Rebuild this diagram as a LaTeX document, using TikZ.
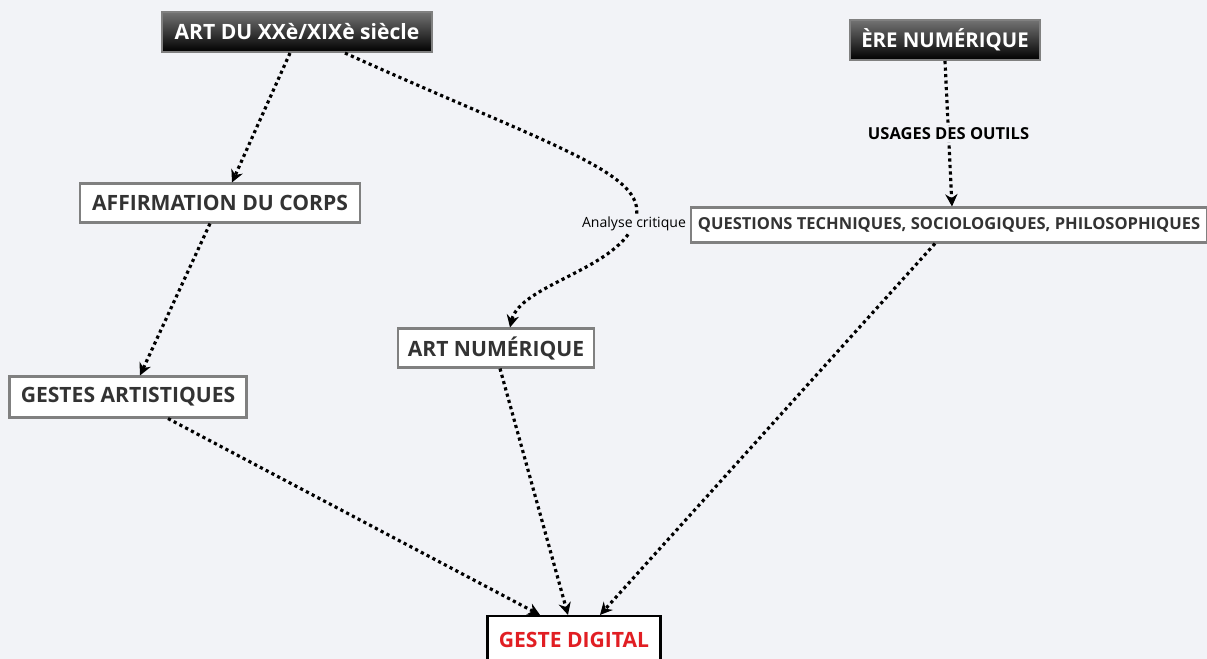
\documentclass[tikz,border=0pt]{standalone}
\usepackage{fontspec}
\setmainfont{Open Sans}
\usetikzlibrary{arrows.meta, positioning, calc}
\definecolor{bgpaper}{RGB}{242,243,247}
\definecolor{boxborder}{RGB}{128,128,128}
\definecolor{boxtext}{RGB}{51,51,51}
\definecolor{goalred}{RGB}{225,30,35}

\begin{document}
\begin{tikzpicture}[x=0.02cm, y=-0.02cm,
    box/.style={draw=boxborder, line width=1.2pt, fill=white, minimum height=0.78cm,
                inner sep=0pt, font=\fontsize{12}{14}\selectfont\bfseries, text=boxtext},
    dark/.style={draw=boxborder, line width=1.2pt, top color=black!55, bottom color=black,
                 minimum height=0.8cm, inner sep=0pt, text=white,
                 font=\fontsize{12}{14}\selectfont\bfseries},
    goal/.style={box, draw=black, text=goalred},
    arr/.style={-{Stealth[length=7pt, width=7pt]}, line width=1.8pt,
                dash pattern=on 1.8pt off 1.9pt},
    lbl/.style={fill=bgpaper, inner sep=1pt, font=\fontsize{8}{9}\selectfont}
  ]
    \useasboundingbox[fill=bgpaper] (0,0) rectangle (1207,659);

    %% Top row
    \node[dark, minimum width=5.4cm] (art) at (297,32) {ART DU XXè/XIXè siècle};
    \node[dark, minimum width=3.8cm, font=\fontsize{11.6}{14}\selectfont\bfseries] (ere) at (945,40) {ÈRE NUMÉRIQUE};

    %% Middle boxes
    \node[box, minimum width=5.6cm] (corps) at (220,203) {AFFIRMATION DU CORPS};
    \node[box, minimum width=10.32cm, minimum height=0.7cm, font=\fontsize{9.4}{11}\selectfont\bfseries] (quest) at (949,225)
      {QUESTIONS TECHNIQUES, SOCIOLOGIQUES, PHILOSOPHIQUES};
    \node[box, minimum width=3.92cm] (artnum) at (496,348) {ART NUMÉRIQUE};
    \node[box, minimum width=4.74cm, minimum height=0.82cm] (gestes) at (128,397) {GESTES ARTISTIQUES};

    %% Goal
    \node[goal, minimum width=3.46cm, minimum height=0.96cm] (digital) at (574,640) {GESTE DIGITAL};

    %% Arrows
    \draw[arr] ([xshift=-0.14cm]art.south) -- ([xshift=0.24cm]corps.north);
    \draw[arr] ([xshift=0.96cm]art.south) .. controls (560,150) and (655,175) ..
      (634,224) node[lbl] {Analyse critique}
      .. controls (615,270) and (520,285) .. ([xshift=0.28cm]artnum.north);
    \draw[arr] (ere.south) -- ([xshift=0.06cm]quest.north)
      node[midway, fill=bgpaper, inner sep=1pt, font=\fontsize{9.4}{11}\selectfont\bfseries] {USAGES DES OUTILS};
    \draw[arr] ([xshift=-0.2cm]corps.south) -- ([xshift=0.24cm]gestes.north);
    \draw[arr] ([xshift=0.8cm]gestes.south) -- ([xshift=-0.68cm]digital.north);
    \draw[arr] ([xshift=0.08cm]artnum.south) -- ([xshift=-0.12cm]digital.north);
    \draw[arr] ([xshift=-0.28cm]quest.south) -- ([xshift=0.52cm]digital.north);
  \end{tikzpicture}
\end{document}
